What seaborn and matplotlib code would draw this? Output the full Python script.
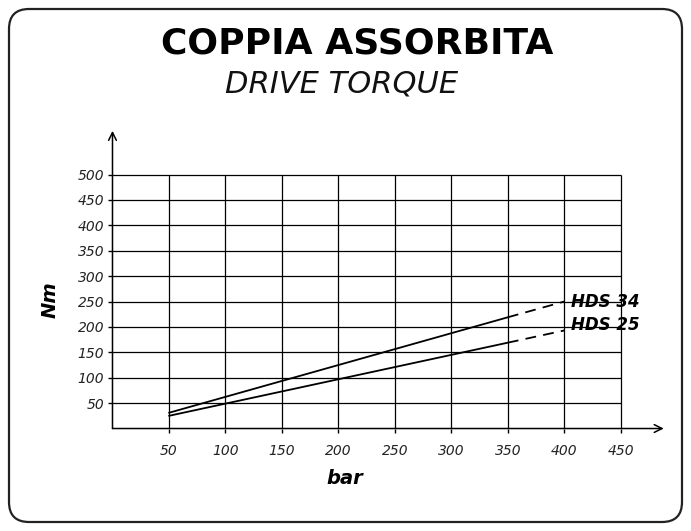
"""Drive torque chart (COPPIA ASSORBITA) for HDS 25 / HDS 34."""

import matplotlib

matplotlib.use("Agg")

import matplotlib.pyplot as plt
import pandas as pd
import seaborn as sns
from matplotlib.patches import FancyBboxPatch
from matplotlib.transforms import IdentityTransform

# data
pressure_solid = [50, 350]
pressure_dashed = [350, 400]
hds34_solid = [31, 219]
hds34_dashed = [219, 250]
hds25_solid = [25, 169]
hds25_dashed = [169, 193]
x_ticks = [50, 100, 150, 200, 250, 300, 350, 400, 450]
y_ticks = [50, 100, 150, 200, 250, 300, 350, 400, 450, 500]

sns.set_theme(style="white")
plt.rcParams["font.family"] = ["DejaVu Sans"]

fig = plt.figure(figsize=(6.91, 5.31), dpi=100)
ax = fig.add_axes([0.1628, 0.193, 0.801, 0.5644])

# grid, limited to the drawn area
ax.hlines(y_ticks, 0, 450, color="black", lw=0.9, zorder=1)
ax.vlines(x_ticks, 0, 500, color="black", lw=0.9, zorder=1)

solid = pd.DataFrame({
    "bar": pressure_solid * 2,
    "Nm": hds34_solid + hds25_solid,
    "model": ["HDS 34"] * 2 + ["HDS 25"] * 2,
})
dashed = pd.DataFrame({
    "bar": pressure_dashed * 2,
    "Nm": hds34_dashed + hds25_dashed,
    "model": ["HDS 34"] * 2 + ["HDS 25"] * 2,
})
sns.lineplot(data=solid, x="bar", y="Nm", units="model", estimator=None,
             color="black", lw=1.3, ax=ax, zorder=3)
sns.lineplot(data=dashed, x="bar", y="Nm", units="model", estimator=None,
             color="black", lw=1.3, ax=ax, zorder=3, dashes=False)
for line in ax.get_lines()[2:]:
    line.set_linestyle((0, (6, 4)))

ax.text(406, hds34_dashed[-1], "HDS 34", fontsize=12, fontweight="bold",
        style="italic", va="center", ha="left", color="black")
ax.text(406, hds25_dashed[-1] + 10, "HDS 25", fontsize=12, fontweight="bold",
        style="italic", va="center", ha="left", color="black")

ax.set_xlim(0, 490)
ax.set_ylim(0, 590)
for spine in ax.spines.values():
    spine.set_visible(False)

# axes drawn as arrows
ax.annotate("", xy=(488, 0), xytext=(0, 0),
            arrowprops=dict(arrowstyle="->", color="black", lw=1.1,
                            shrinkA=0, shrinkB=0, mutation_scale=14))
ax.annotate("", xy=(0, 586), xytext=(0, 0),
            arrowprops=dict(arrowstyle="->", color="black", lw=1.1,
                            shrinkA=0, shrinkB=0, mutation_scale=14))

ax.set_xticks(x_ticks)
ax.set_yticks(y_ticks)
ax.set_xticklabels([str(v) for v in x_ticks], style="italic", fontsize=10)
ax.set_yticklabels([str(v) for v in y_ticks], style="italic", fontsize=10)
ax.tick_params(axis="both", direction="out", length=3, width=1,
               color="black", labelcolor="#222222")
ax.tick_params(axis="x", pad=8)
ax.tick_params(axis="y", pad=3)
ax.xaxis.set_ticks_position("bottom")
ax.yaxis.set_ticks_position("left")

ax.set_xlabel("")
ax.set_ylabel("")
fig.text(345 / 691, 1 - 478 / 531, "bar", fontsize=14, fontweight="bold",
         style="italic", ha="center", va="center", color="black")
fig.text(50 / 691, 1 - 300 / 531, "Nm", fontsize=14, fontweight="bold",
         style="italic", ha="center", va="center", rotation=90,
         color="black")

fig.text(357 / 691, 1 - 43 / 531, "COPPIA ASSORBITA", fontsize=26,
         fontweight="heavy", ha="center", va="center", color="black")
fig.text(342 / 691, 1 - 84 / 531, "DRIVE TORQUE", fontsize=22,
         style="italic", ha="center", va="center", color="#111111")

border = FancyBboxPatch((9, 9), 673, 513,
                        boxstyle="round,pad=0,rounding_size=20",
                        transform=IdentityTransform(), fill=False,
                        edgecolor="#222222", lw=1.6)
fig.patches.append(border)

fig.savefig("out.png", dpi=100)
plt.close(fig)
